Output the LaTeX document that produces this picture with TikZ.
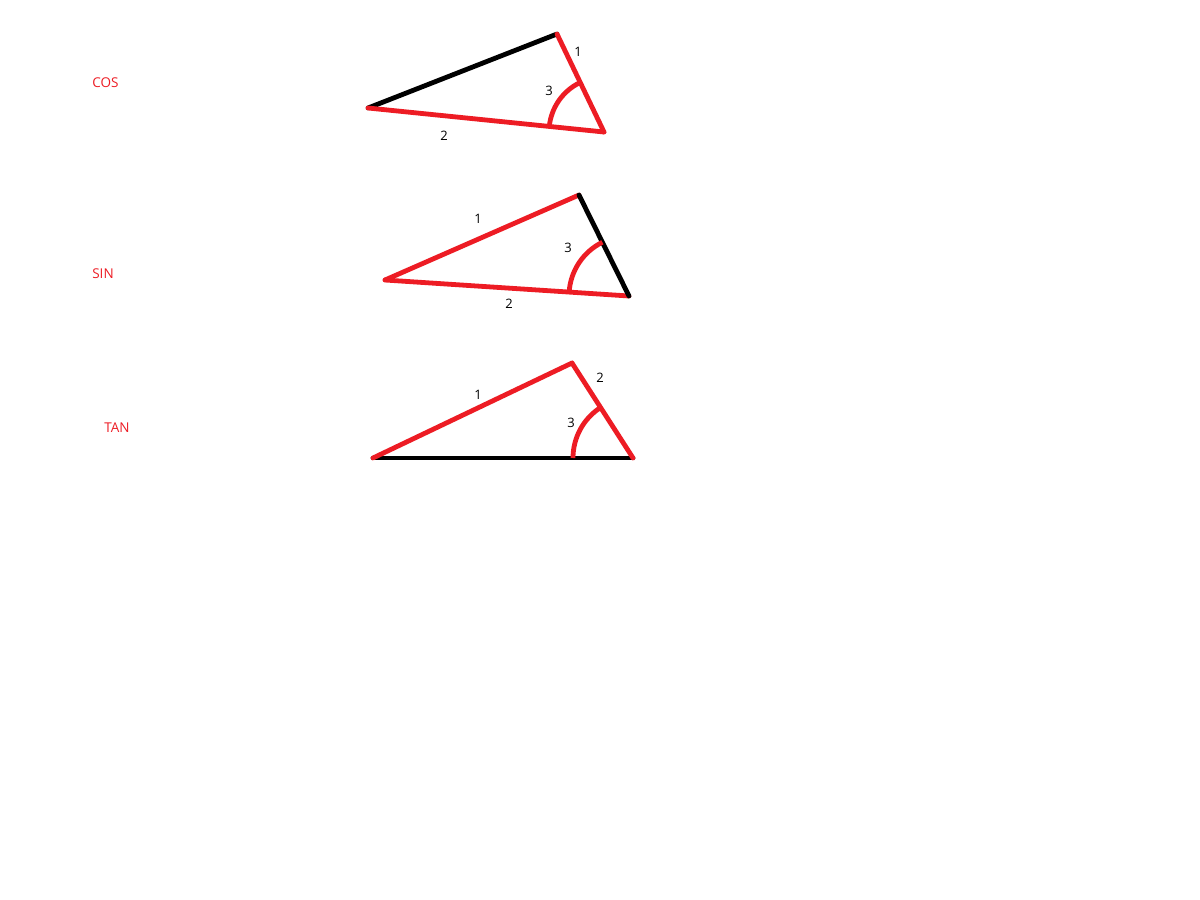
\documentclass[tikz,border=0pt]{standalone}
\usepackage{fontspec}
\setmainfont{Open Sans}
\usetikzlibrary{calc}
\definecolor{pred}{RGB}{237,28,36}
\begin{document}
\begin{tikzpicture}[x=1pt,y=1pt,
  redside/.style={draw=pred,line width=4.8pt,line cap=round},
  blackside/.style={draw=black,line width=4.8pt,line cap=round},
  angarc/.style={draw=pred,line width=4.8pt},
  num/.style={font=\fontsize{13}{15}\selectfont,text=black,inner sep=0pt},
  fn/.style={font=\fontsize{13.5}{15}\selectfont,text=pred,inner sep=0pt}]
\useasboundingbox[fill=white] (0,0) rectangle (1200,-900);
% labels
\node[fn] (cos) at (105.5,-83) {COS};
\node[fn] (sin) at (103,-274) {SIN};
\node[fn] (tan) at (117,-428) {TAN};
% triangle 1 (COS)
\coordinate (A1) at (368,-108);
\coordinate (B1) at (557,-34);
\coordinate (C1) at (604,-132);
\draw[blackside] (A1) -- (B1);
\draw[redside] (A1) -- (C1);
\draw[redside] (B1) -- (C1);
\draw[angarc] ($(C1)!55pt!(A1)$) arc[start angle=174.19,end angle=115.62,radius=55pt];
\node[num] (t1a) at (578,-52) {1};
\node[num] (t1b) at (444,-136) {2};
\node[num] (t1c) at (549,-91) {3};
% triangle 2 (SIN)
\coordinate (A2) at (385,-280);
\coordinate (B2) at (579,-195);
\coordinate (C2) at (629,-296);
\draw[redside] (A2) -- (B2);
\draw[redside] (A2) -- (C2);
\draw[blackside] (B2) -- (C2);
\draw[angarc] ($(C2)!60pt!(A2)$) arc[start angle=176.25,end angle=116.34,radius=60pt];
\node[num] (t2a) at (478,-219) {1};
\node[num] (t2b) at (509,-304) {2};
\node[num] (t2c) at (568,-248) {3};
% triangle 3 (TAN)
\coordinate (A3) at (373,-458);
\coordinate (B3) at (572,-363);
\coordinate (C3) at (633,-458);
\draw[blackside] (A3) -- (C3);
\draw[redside] (A3) -- (B3);
\draw[redside] (B3) -- (C3);
\draw[angarc] ($(C3)!60pt!(A3)$) arc[start angle=180,end angle=122.7,radius=60pt];
\node[num] (t3a) at (478,-395) {1};
\node[num] (t3b) at (600,-378) {2};
\node[num] (t3c) at (571,-423) {3};
\end{tikzpicture}
\end{document}
